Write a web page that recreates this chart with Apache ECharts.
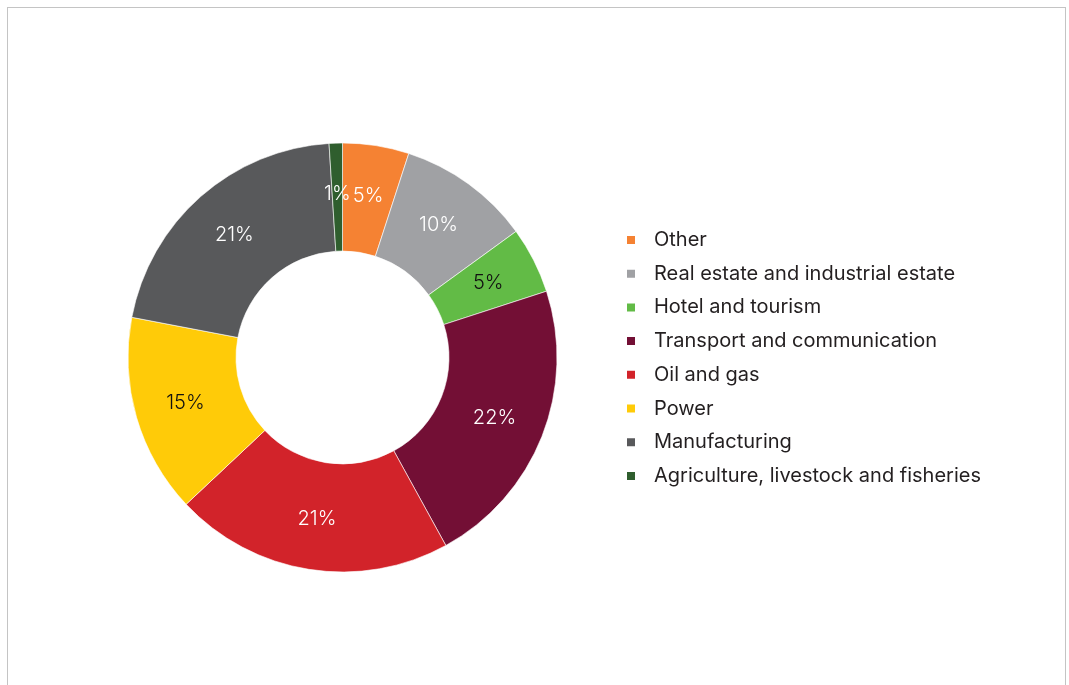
<!DOCTYPE html>
<html>
<head>
<meta charset="utf-8">
<script src="https://cdn.jsdelivr.net/npm/echarts@6/dist/echarts.min.js"></script>
<style>
  html, body { margin: 0; padding: 0; background: #fff; }
  #frame {
    position: absolute; left: 7px; top: 7px; width: 1059px; height: 690px;
    border: 1.5px solid #c4c4c4; border-bottom: none; box-sizing: border-box;
  }
  #chart { position: absolute; left: 0; top: 0; width: 1069px; height: 685px; }
</style>
</head>
<body>
<div id="frame"></div>
<div id="chart"></div>
<script>
// Share of investment by sector (%)
const sectors = [
  'Other',
  'Real estate and industrial estate',
  'Hotel and tourism',
  'Transport and communication',
  'Oil and gas',
  'Power',
  'Manufacturing',
  'Agriculture, livestock and fisheries'
];
const shares = [5, 10, 5, 22, 21, 15, 21, 1];
const sectorColors = ['#F58233', '#A0A1A4', '#62BB46', '#730F35', '#D2232A', '#FFCB08', '#58595B', '#2F5E2E'];
const labelColors = ['#ffffff', '#ffffff', '#111111', '#ffffff', '#ffffff', '#111111', '#ffffff', '#ffffff'];

const chart = echarts.init(document.getElementById('chart'), null, { renderer: 'canvas' });

const pieData = sectors.map((name, i) => ({
  name: name,
  value: shares[i],
  itemStyle: { color: sectorColors[i] },
  label: { color: labelColors[i] }
}));

chart.setOption({
  animation: false,
  legend: {
    orient: 'vertical',
    left: 625,
    top: 227.5,
    padding: 0,
    itemWidth: 10,
    itemHeight: 10,
    itemGap: 8.7,
    icon: 'rect',
    textStyle: {
      fontFamily: 'Inter',
      fontSize: 20,
      lineHeight: 20,
      color: '#231f20',
      padding: [0, 0, 5, 13]
    },
    data: sectors
  },
  series: [{
    type: 'pie',
    center: [342.5, 357.5],
    radius: [106.5, 214.5],
    startAngle: 90,
    clockwise: true,
    avoidLabelOverlap: false,
    itemStyle: { borderColor: '#ffffff', borderWidth: 0.6 },
    label: {
      show: true,
      position: 'inside',
      formatter: '{c}%',
      fontFamily: 'Inter',
      fontWeight: 300,
      fontSize: 20
    },
    labelLine: { show: false },
    emphasis: { disabled: true },
    data: pieData
  }]
});
</script>
</body>
</html>
